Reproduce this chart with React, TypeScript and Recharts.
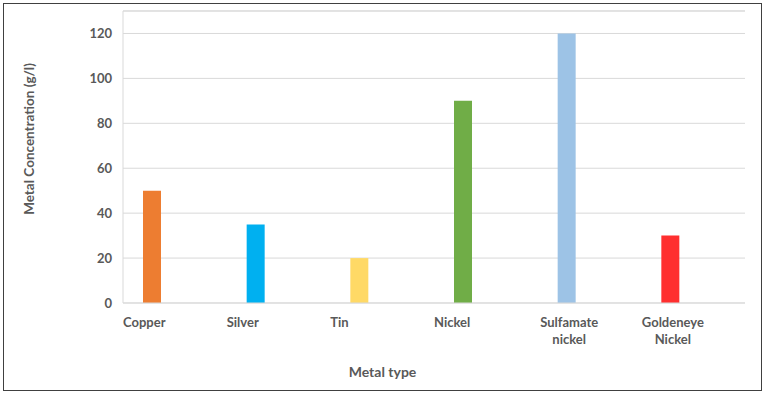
import { BarChart, Bar, XAxis, YAxis, CartesianGrid, Cell, Label, ReferenceLine } from 'recharts';

const W = 765;
const H = 393;

const metals = ['Copper', 'Silver', 'Tin', 'Nickel', 'Sulfamate\nnickel', 'Goldeneye\nNickel'];
const concentration = [50, 35, 20, 90, 120, 30];
const barColors = ['#ED7D31', '#00B0F0', '#FFD966', '#70AD47', '#9DC3E6', '#FF2F2F'];
const yTicks = [0, 20, 40, 60, 80, 100, 120];

const data = metals.map((m, i) => ({ metal: m, value: concentration[i] }));

const FONT = 'Lato, "Open Sans", sans-serif';
const TEXT = '#595959';
const GRID = '#D9D9D9';

// labels sit at the left of each category, lines centered within the block
function MetalTick(props: any) {
	const { x, y, payload } = props;
	const half = payload.offset ?? 51.8;
	const start = x - half;
	const lines = String(payload.value).split('\n');
	const longest = Math.max(...lines.map((l) => l.length));
	const multi = lines.length > 1;
	return (
		<g>
			{lines.map((line, i) => (
				<text
					key={i}
					x={multi ? start + longest * 3.5 : start}
					y={y + 14 + i * 17}
					textAnchor={multi ? 'middle' : 'start'}
					fill={TEXT}
					fontSize={13}
					fontWeight="bold"
					fontFamily={FONT}
				>
					{line}
				</text>
			))}
		</g>
	);
}

export default function App() {
	return (
		<div style={{ position: 'absolute', left: 0, top: 0, width: W, height: H, background: '#fff' }}>
			<div
				style={{
					position: 'absolute',
					left: 3,
					top: 3,
					width: 757,
					height: 386,
					border: '1px solid #404040',
				}}
			/>
			<BarChart
				width={W}
				height={H}
				data={data}
				margin={{ top: 11, right: 20, left: 0, bottom: 0 }}
				barGap={28.5}
				style={{ position: 'absolute', left: 0, top: 0 }}
			>
				<CartesianGrid vertical={false} stroke={GRID} />
				<XAxis
					dataKey="metal"
					interval={0}
					height={90}
					axisLine={{ stroke: GRID }}
					tickLine={false}
					tickSize={0}
					tickMargin={10}
					tick={<MetalTick />}
				>
					<Label
						content={() => (
							<text
								x={W / 2}
								y={377}
								textAnchor="middle"
								fill={TEXT}
								fontSize={14}
								fontWeight="bold"
								fontFamily={FONT}
							>
								Metal type
							</text>
						)}
					/>
				</XAxis>
				<YAxis
					width={123}
					domain={[0, 130]}
					ticks={yTicks}
					axisLine={{ stroke: GRID }}
					tickLine={false}
					tickSize={0}
					tickMargin={11}
					tick={{ fill: TEXT, fontSize: 13, fontWeight: 'bold', fontFamily: FONT }}
				>
					<Label
						content={(p: any) => {
							const cx = 28.5;
							const cy = p.viewBox.y + p.viewBox.height / 2 - 18;
							return (
								<text
									x={cx}
									y={cy}
									transform={`rotate(-90 ${cx} ${cy})`}
									textAnchor="middle"
									dominantBaseline="central"
									fill={TEXT}
									fontSize={13.5}
									fontWeight="bold"
									fontFamily={FONT}
								>
									Metal Concentration (g/l)
								</text>
							);
						}}
					/>
				</YAxis>
				<YAxis
					yAxisId="right"
					orientation="right"
					width={0}
					domain={[0, 130]}
					tick={false}
					tickLine={false}
					axisLine={{ stroke: GRID }}
				/>
				<ReferenceLine y={130} stroke={GRID} />
				<Bar dataKey="value" barSize={18} isAnimationActive={false}>
					{data.map((d, i) => (
						<Cell key={d.metal} fill={barColors[i]} />
					))}
				</Bar>
				<Bar dataKey="none" barSize={18} isAnimationActive={false} />
			</BarChart>
		</div>
	);
}
